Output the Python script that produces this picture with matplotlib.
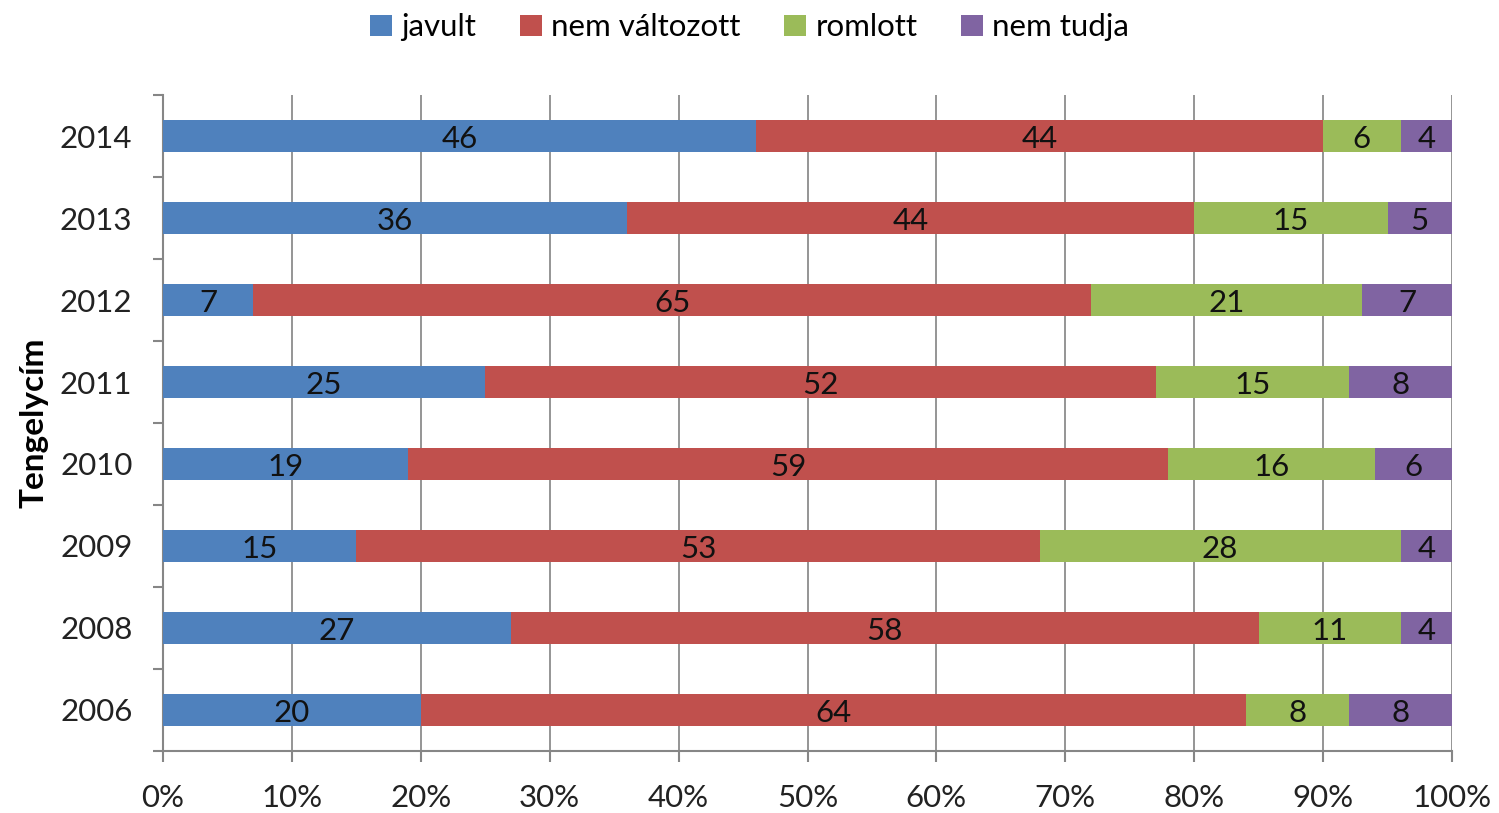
import matplotlib
matplotlib.use("Agg")
import matplotlib.pyplot as plt
import numpy as np

years = ["2014", "2013", "2012", "2011", "2010", "2009", "2008", "2006"]
series_names = ["javult", "nem változott", "romlott", "nem tudja"]
javult = [46, 36, 7, 25, 19, 15, 27, 20]
nem_valtozott = [44, 44, 65, 52, 59, 53, 58, 64]
romlott = [6, 15, 21, 15, 16, 28, 11, 8]
nem_tudja = [4, 5, 7, 8, 6, 4, 4, 8]
colors = ["#4F81BD", "#C0504D", "#9BBB59", "#8064A2"]
xtick_labels = ["0%", "10%", "20%", "30%", "40%", "50%", "60%", "70%", "80%", "90%", "100%"]

plt.rcParams['font.family'] = ['Lato', 'DejaVu Sans']

fig = plt.figure(figsize=(14.99, 8.13), dpi=100)
ax = fig.add_axes([0.1087, 0.0763, 0.86, 0.8068])

data = [javult, nem_valtozott, romlott, nem_tudja]
ypos = np.arange(len(years))
left = np.zeros(len(years))
handles = []
for vals, name, col in zip(data, series_names, colors):
    vals = np.array(vals, dtype=float)
    h = ax.barh(ypos, vals, left=left, height=0.4, color=col, label=name, zorder=3)
    handles.append(h)
    for y, l, v in zip(ypos, left, vals):
        ax.text(l + v / 2, y + 0.04, f"{int(v)}", ha="center", va="center",
                fontsize=22.5, color="#111111", zorder=4)
    left += vals

ax.set_xlim(0, 100)
ax.set_ylim(len(years) - 0.5, -0.5)
ax.set_xticks(np.arange(0, 101, 10))
ax.set_xticklabels(xtick_labels, fontsize=22.5, color="#222222")
ax.set_yticks(ypos)
ax.set_yticklabels(years, fontsize=22.5, color="#222222")
ax.set_yticks(np.arange(-0.5, len(years), 1), minor=True)
ax.tick_params(axis="y", which="major", length=0, pad=22)
ax.tick_params(axis="y", which="minor", length=7, width=1.5, color="#868686")
ax.tick_params(axis="x", which="major", length=8, width=1.5, color="#868686", pad=16)
ax.xaxis.grid(True, color="#8c8c8c", linewidth=1.3, zorder=0)
ax.set_axisbelow(True)
for s in ["top", "right"]:
    ax.spines[s].set_visible(False)
for s in ["left", "bottom"]:
    ax.spines[s].set_color("#868686")
    ax.spines[s].set_linewidth(1.5)

ax.set_ylabel("Tengelycím", fontsize=24, fontweight="bold", labelpad=8)

fig.legend(handles, series_names, loc="upper center", bbox_to_anchor=(0.5, 1.018),
           ncol=4, frameon=False, fontsize=22.5, handlelength=0.7, handleheight=0.7,
           handletextpad=0.3, columnspacing=1.4)

fig.savefig("out.png", dpi=100)
